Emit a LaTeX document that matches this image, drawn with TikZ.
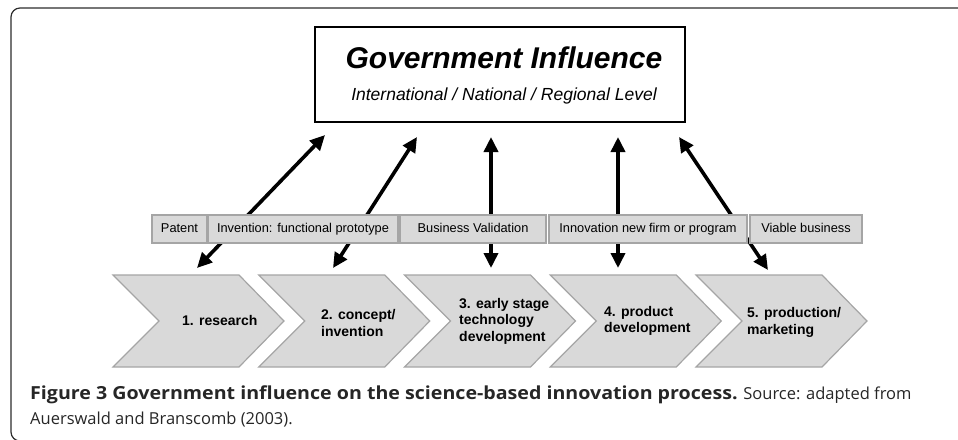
\documentclass[tikz,border=0pt]{standalone}
\usepackage{fontspec}
\setmainfont{Liberation Sans}
\newfontfamily\capfont{Open Sans}[BoldFeatures = {FakeStretch = 1.09}]
\usetikzlibrary{arrows.meta}
\definecolor{chevgray}{RGB}{217,217,217}
\definecolor{boxgray}{RGB}{165,165,165}
\definecolor{framegray}{RGB}{45,45,45}

\begin{document}
\begin{tikzpicture}[x = 1pt, y = -1pt,
  lbl/.style = {draw = boxgray, fill = chevgray, line width = 1.4pt, inner sep = 0pt, minimum height = 28pt, text height = 9.3pt, text depth = 2.7pt, font = \fontsize{12.8}{15}\selectfont},
  stage/.style = {anchor = west, align = left, inner sep = 0pt, font = \bfseries\fontsize{14}{16.5}\selectfont},
  chev/.style = {draw = boxgray, fill = chevgray, line width = 1.2pt, line join = miter},
  biarrow/.style = {line width = 3.6pt, {Triangle[length=15pt,width=14pt]}-{Triangle[length=15pt,width=14pt]}}]
\useasboundingbox (0, 0) rectangle (958, 439);
\draw[framegray, line width = 1.2pt, rounded corners = 9pt] (11, 8) rectangle (975, 441);
% government box
\node[draw, line width = 1.5pt, minimum width = 370pt, minimum height = 95pt, inner sep = 0pt] (gov) at (500, 74.5) {};
\node[anchor = base, inner sep = 0pt, font = \bfseries\itshape\fontsize{30}{34}\selectfont] (govtitle) at (504, 68) {Government Influence};
\node[anchor = base, inner sep = 0pt, font = \itshape\fontsize{17.5}{20}\selectfont] (govlevel) at (504, 100) {International / National / Regional Level};
% arrows
\foreach \i/\xa/\ya/\xb/\yb in {1/197/268/325/135, 2/333/268/417/137, 3/491/268/491/137, 4/618/268/618/137, 5/768/270/679/137} {
  \coordinate (lo\i) at (\xa, \ya);
  \coordinate (hi\i) at (\xb, \yb);
  \draw[biarrow] (lo\i) -- (hi\i);
}
% outcome boxes
\node[lbl, minimum width = 55pt] (patent) at (179.5, 229) {Patent};
\node[lbl, minimum width = 190pt] (invention) at (303, 229) {Invention: functional prototype};
\node[lbl, minimum width = 146pt] (validation) at (473, 229) {Business Validation};
\node[lbl, minimum width = 198pt] (innovation) at (648, 229) {Innovation new firm or program};
\node[lbl, minimum width = 112pt] (viable) at (806, 229) {Viable business};
% stages
\foreach \i in {0, ..., 4} {
  \pgfmathsetmacro{\xo}{113 + 145.75*\i}
  \draw[chev] (\xo, 275) -- ++(126, 0) -- ++(45, 46) -- ++(-45, 46) -- ++(-126, 0) -- ++(46, -46) -- cycle;
}
\node[stage] (stage1) at (182, 320) {1. research};
\node[stage] (stage2) at (321, 323) {2. concept/\\invention};
\node[stage] (stage3) at (459, 321) {3. early stage\\technology\\development};
\node[stage] (stage4) at (604, 321) {4. product\\development};
\node[stage] (stage5) at (747, 322.5) {5. production/\\marketing};
% caption
\node[anchor = base west, inner sep = 0pt, font = \capfont\fontsize{16.5}{20}\selectfont, text = black!85] (caption1) at (30, 399) {{\fontsize{18}{20}\selectfont\bfseries Figure 3 Government influence on the science-based innovation process.} Source: adapted from};
\node[anchor = base west, inner sep = 0pt, font = \capfont\fontsize{16.5}{20}\selectfont, text = black!85] (caption2) at (30, 424) {Auerswald and Branscomb (2003).};
\end{tikzpicture}
\end{document}
